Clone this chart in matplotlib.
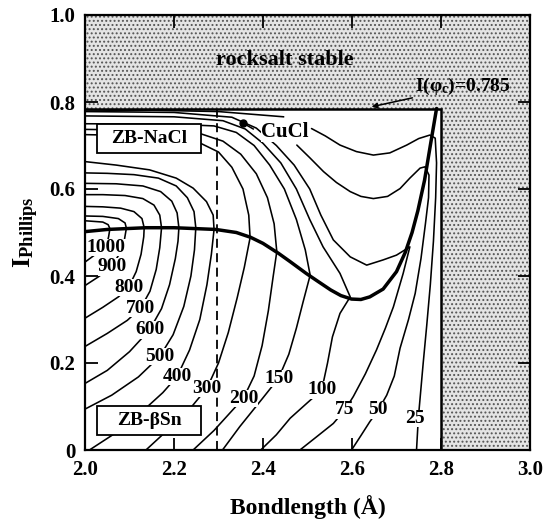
import matplotlib
matplotlib.use("Agg")
import matplotlib.pyplot as plt
from matplotlib.patches import Polygon, Rectangle

plt.rcParams['font.family'] = ['Liberation Serif', 'DejaVu Serif']
plt.rcParams['font.weight'] = 'bold'
plt.rcParams['mathtext.fontset'] = 'custom'
plt.rcParams['mathtext.rm'] = 'Liberation Serif:bold'
plt.rcParams['mathtext.it'] = 'Liberation Serif:bold'
plt.rcParams['mathtext.bf'] = 'Liberation Serif:bold'
plt.rcParams['hatch.linewidth'] = 0.9

# ---------------- data ----------------
x_ticks = [2.0, 2.2, 2.4, 2.6, 2.8, 3.0]
x_ticklabels = ['2.0', '2.2', '2.4', '2.6', '2.8', '3.0']
y_ticks = [0, 0.2, 0.4, 0.6, 0.8, 1.0]
y_ticklabels = ['0', '0.2', '0.4', '0.6', '0.8', '1.0']

critical_ionicity = 0.785
bond_max = 2.8
cucl_bond = 2.356
cucl_ion = 0.751
dashed_bond = 2.297

# phase boundary (thick line)
bnd_x = [2.0, 2.05, 2.137, 2.2, 2.294, 2.34, 2.372, 2.40, 2.435, 2.461, 2.497, 2.52,
         2.552, 2.575, 2.599, 2.62, 2.64, 2.67, 2.70, 2.72, 2.735, 2.748, 2.763, 2.776, 2.79]
bnd_y = [0.502, 0.507, 0.511, 0.511, 0.507, 0.50, 0.489, 0.475, 0.452, 0.433, 0.406, 0.39,
         0.368, 0.355, 0.347, 0.346, 0.352, 0.37, 0.41, 0.455, 0.50, 0.55, 0.62, 0.70, 0.785]

# contour lines (transition pressure, kbar)
c1000_x = [2.0, 2.02, 2.047, 2.053, 2.056, 2.052, 2.04, 2.0]
c1000_y = [0.432, 0.447, 0.466, 0.49, 0.509, 0.518, 0.524, 0.527]
c900_x = [2.0, 2.03, 2.059, 2.077, 2.088, 2.093, 2.09, 2.075, 2.04, 2.0]
c900_y = [0.378, 0.398, 0.421, 0.45, 0.48, 0.510, 0.522, 0.532, 0.537, 0.538]
c800_x = [2.0, 2.04, 2.075, 2.098, 2.115, 2.126, 2.132, 2.133, 2.128, 2.11, 2.08, 2.04, 2.0]
c800_y = [0.303, 0.328, 0.352, 0.374, 0.41, 0.45, 0.49, 0.511, 0.532, 0.548, 0.556, 0.559, 0.560]
c700_x = [2.0, 2.05, 2.095, 2.125, 2.146, 2.16, 2.168, 2.172, 2.168, 2.155, 2.13, 2.09, 2.04, 2.0]
c700_y = [0.238, 0.268, 0.298, 0.326, 0.365, 0.415, 0.465, 0.511, 0.540, 0.563, 0.578, 0.585, 0.587, 0.587]
c600_x = [2.0, 2.05, 2.10, 2.145, 2.172, 2.19, 2.203, 2.209, 2.211, 2.207, 2.195, 2.17, 2.13, 2.07, 2.0]
c600_y = [0.153, 0.183, 0.226, 0.276, 0.325, 0.38, 0.44, 0.48, 0.511, 0.545, 0.572, 0.594, 0.607, 0.612, 0.613]
c500_x = [2.0, 2.06, 2.12, 2.168, 2.198, 2.222, 2.238, 2.246, 2.249, 2.245, 2.23, 2.205, 2.165, 2.11, 2.05, 2.0]
c500_y = [0.094, 0.126, 0.168, 0.215, 0.265, 0.33, 0.40, 0.46, 0.511, 0.548, 0.58, 0.607, 0.625, 0.633, 0.636, 0.637]
c400_x = [2.01, 2.07, 2.13, 2.175, 2.207, 2.235, 2.258, 2.274, 2.284, 2.29, 2.288, 2.273, 2.243, 2.205, 2.145, 2.07, 2.0]
c400_y = [0.0, 0.04, 0.09, 0.132, 0.169, 0.23, 0.30, 0.38, 0.45, 0.507, 0.540, 0.571, 0.602, 0.625, 0.644, 0.655, 0.663]
c300_x = [2.137, 2.19, 2.24, 2.274, 2.30, 2.322, 2.342, 2.358, 2.371, 2.368, 2.355, 2.33, 2.30, 2.26, 2.20, 2.10, 2.0]
c300_y = [0.0, 0.05, 0.10, 0.142, 0.20, 0.27, 0.35, 0.42, 0.488, 0.54, 0.60, 0.65, 0.685, 0.705, 0.718, 0.723, 0.725]
c200_x = [2.243, 2.29, 2.33, 2.356, 2.38, 2.398, 2.412, 2.423, 2.431, 2.425, 2.41, 2.385, 2.35, 2.31, 2.26, 2.15, 2.0]
c200_y = [0.0, 0.045, 0.09, 0.119, 0.17, 0.24, 0.32, 0.40, 0.456, 0.52, 0.58, 0.635, 0.68, 0.71, 0.727, 0.735, 0.737]
c150_x = [2.309, 2.348, 2.40, 2.435, 2.458, 2.475, 2.49, 2.506, 2.495, 2.475, 2.448, 2.415, 2.38, 2.34, 2.29, 2.2, 2.0]
c150_y = [0.0, 0.054, 0.12, 0.165, 0.22, 0.28, 0.34, 0.402, 0.46, 0.53, 0.60, 0.655, 0.70, 0.73, 0.745, 0.749, 0.750]
c100_x = [2.395, 2.43, 2.461, 2.498, 2.532, 2.545, 2.556, 2.573, 2.596, 2.573, 2.535, 2.505, 2.475, 2.44, 2.40, 2.36, 2.31, 2.2, 2.0]
c100_y = [0.0, 0.035, 0.073, 0.107, 0.138, 0.20, 0.26, 0.314, 0.352, 0.406, 0.467, 0.53, 0.60, 0.66, 0.705, 0.738, 0.757, 0.766, 0.768]
c75_x = [2.483, 2.52, 2.558, 2.584, 2.603, 2.63, 2.655, 2.675, 2.693, 2.715, 2.730, 2.70, 2.67, 2.633,
         2.596, 2.558, 2.53, 2.505, 2.47, 2.43, 2.385, 2.33, 2.2, 2.0]
c75_y = [0.0, 0.03, 0.061, 0.092, 0.123, 0.175, 0.23, 0.28, 0.329, 0.406, 0.467, 0.448, 0.437, 0.425,
         0.444, 0.483, 0.54, 0.60, 0.655, 0.70, 0.74, 0.765, 0.776, 0.778]
c50_x = [2.599, 2.62, 2.64, 2.659, 2.678, 2.695, 2.708, 2.727, 2.742, 2.755, 2.765, 2.772, 2.773, 2.764,
         2.753, 2.73, 2.708, 2.68, 2.648, 2.62, 2.596, 2.565, 2.536, 2.505, 2.476]
c50_y = [0.0, 0.033, 0.065, 0.092, 0.126, 0.17, 0.234, 0.30, 0.36, 0.44, 0.52, 0.58, 0.632, 0.651,
         0.648, 0.625, 0.601, 0.583, 0.578, 0.583, 0.594, 0.615, 0.640, 0.672, 0.701]
c25_x = [2.745, 2.749, 2.753, 2.76, 2.768, 2.776, 2.783, 2.788, 2.79, 2.787, 2.775, 2.75, 2.723, 2.685,
         2.648, 2.61, 2.573, 2.54, 2.509]
c25_y = [0.0, 0.073, 0.119, 0.20, 0.287, 0.38, 0.48, 0.58, 0.66, 0.717, 0.724, 0.716, 0.701, 0.683,
         0.678, 0.686, 0.701, 0.722, 0.739]

contour_x = [c1000_x, c900_x, c800_x, c700_x, c600_x, c500_x, c400_x, c300_x, c200_x,
             c150_x, c100_x, c75_x, c50_x, c25_x]
contour_y = [c1000_y, c900_y, c800_y, c700_y, c600_y, c500_y, c400_y, c300_y, c200_y,
             c150_y, c100_y, c75_y, c50_y, c25_y]

label_text = ['1000', '900', '800', '700', '600', '500', '400', '300', '200', '150', '100', '75', '50', '25']
label_x = [2.047, 2.062, 2.098, 2.125, 2.145, 2.168, 2.207, 2.274, 2.356, 2.435, 2.532, 2.584, 2.659, 2.742]
label_y = [0.466, 0.421, 0.374, 0.326, 0.276, 0.215, 0.169, 0.142, 0.119, 0.165, 0.138, 0.092, 0.092, 0.073]

# short top line near the critical ionicity
top1_x = [2.0, 2.15, 2.30, 2.446]
top1_y = [0.779, 0.781, 0.778, 0.766]

# ---------------- figure ----------------
fig = plt.figure(figsize=(5.45, 5.22), dpi=100)
ax = fig.add_axes([85 / 545, 72 / 522, 445 / 545, 435 / 522])
ax.set_xlim(2.0, 3.0)
ax.set_ylim(0, 1.0)

# stippled rocksalt-stable region
stip = Polygon([(2.0, critical_ionicity), (bond_max, critical_ionicity), (bond_max, 0), (3.0, 0),
                (3.0, 1.0), (2.0, 1.0)], closed=True, facecolor='#e4e4e4',
               edgecolor='#555555', hatch='....', linewidth=0, zorder=0)
ax.add_patch(stip)

# frame of the zinc-blende region
ax.plot([2.0, bond_max, bond_max], [critical_ionicity, critical_ionicity, 0],
        color='black', lw=1.8, zorder=3, solid_joinstyle='miter')

# contour lines
for cx, cy in zip(contour_x, contour_y):
    ax.plot(cx, cy, color='black', lw=1.15, zorder=2, solid_capstyle='round')
ax.plot(top1_x, top1_y, color='black', lw=1.15, zorder=2)

# phase boundary
ax.plot(bnd_x, bnd_y, color='black', lw=2.5, zorder=2.5, solid_capstyle='round')

# dashed line
ax.plot([dashed_bond, dashed_bond], [0, critical_ionicity], color='black', lw=1.3,
        dashes=(5, 3), zorder=2.2)

# contour labels
for t, lx, ly in zip(label_text, label_x, label_y):
    ax.text(lx, ly, t, fontsize=14, fontweight='bold', ha='center', va='center', zorder=3,
            bbox=dict(facecolor='white', edgecolor='none', pad=0.1))

# CuCl
ax.plot([cucl_bond], [cucl_ion], 'o', color='black', ms=5, zorder=4)
ax.plot([cucl_bond, 2.378], [cucl_ion, 0.738], color='black', lw=1.1, zorder=4)
ax.text(2.449, 0.731, 'CuCl', fontsize=15, fontweight='bold', ha='center', va='center', zorder=4,
        bbox=dict(facecolor='white', edgecolor='none', pad=0.3))

# phase boxes
for (bx, by, bw, bh, txt) in [(2.027, 0.682, 0.234, 0.067, 'ZB-NaCl'),
                              (2.027, 0.034, 0.234, 0.067, 'ZB-βSn')]:
    ax.add_patch(Rectangle((bx, by), bw, bh, facecolor='white', edgecolor='black', lw=1.3, zorder=4))
    ax.text(bx + bw / 2, by + bh / 2, txt, fontsize=14, fontweight='bold', ha='center', va='center', zorder=5)

# annotations
ax.text(2.45, 0.897, 'rocksalt stable', fontsize=16, fontweight='bold', ha='center', va='center', zorder=4)
ax.annotate('I(φ$_c$)=0.785', xy=(2.644, 0.789), xytext=(2.742, 0.835), fontsize=14,
            fontweight='bold', ha='left', va='center', zorder=4,
            arrowprops=dict(arrowstyle='-|>', color='black', lw=1.1, mutation_scale=8,
                            shrinkA=0, shrinkB=0))

# axes styling
ax.set_xticks(x_ticks)
ax.set_xticklabels(x_ticklabels)
ax.set_yticks(y_ticks)
ax.set_yticklabels(y_ticklabels)
ax.tick_params(direction='in', length=9, width=1.3, top=True, right=True,
               labelsize=15, pad=7)
for lab in ax.get_xticklabels() + ax.get_yticklabels():
    lab.set_fontweight('bold')
for s in ax.spines.values():
    s.set_linewidth(1.6)
    s.set_zorder(6)

fig.text(307.5 / 545, 15 / 522, 'Bondlength (Å)', fontsize=17, fontweight='bold',
         ha='center', va='center')
ax.set_ylabel('I$_{\\rm Phillips}$', fontsize=19, fontweight='bold', labelpad=6)

fig.savefig('out.png', dpi=100)
